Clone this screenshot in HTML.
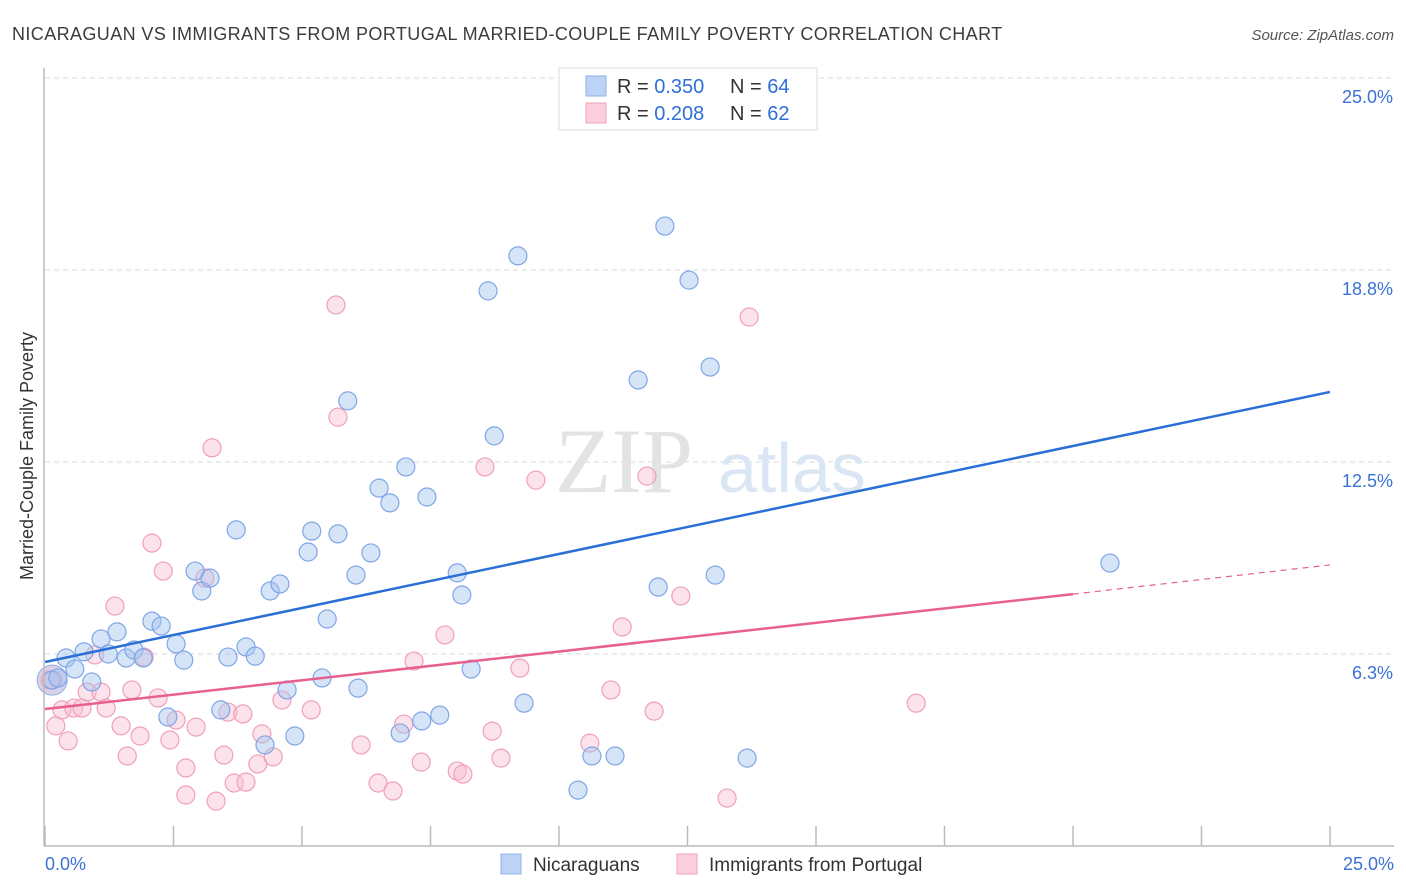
<!DOCTYPE html>
<html><head><meta charset="utf-8"><style>
body{margin:0;background:#fff;font-family:"Liberation Sans",sans-serif;}
svg{display:block}
</style></head><body>
<svg id="chart" width="1406" height="892">
<text x="12" y="40" font-size="18" fill="#3c3c3c" letter-spacing="0.4">NICARAGUAN VS IMMIGRANTS FROM PORTUGAL MARRIED-COUPLE FAMILY POVERTY CORRELATION CHART</text>
<text x="1394" y="40" font-size="15" fill="#555" font-style="italic" text-anchor="end">Source: ZipAtlas.com</text>
<text x="33" y="456" font-size="18" fill="#333" text-anchor="middle" transform="rotate(-90 33 456)">Married-Couple Family Poverty</text>
<g id="grid"></g>
<text x="555" y="492" font-size="92" fill="#e3e3e3" font-family="Liberation Serif,serif">ZIP</text>
<text x="718" y="492" font-size="70" fill="#dbe6f5">atlas</text>
<g id="pts"></g>
<g id="lines"></g>
<line x1="44" y1="68" x2="44" y2="846" stroke="#bbb" stroke-width="1.5"/>
<line x1="44" y1="846" x2="1394" y2="846" stroke="#bbb" stroke-width="1.5"/>
<g id="xt"></g>
<g>
<rect x="559" y="68" width="258" height="62" fill="#fff" stroke="#ddd"/>
<rect x="586" y="76" width="20" height="20" fill="#bcd3f5" stroke="#8fb0e8"/>
<rect x="586" y="103" width="20" height="20" fill="#fbcfdc" stroke="#f0a0b8"/>
<text x="617" y="93" font-size="20" fill="#333">R = <tspan fill="#2f6fd6">0.350</tspan></text>
<text x="730" y="93" font-size="20" fill="#333">N = <tspan fill="#2f6fd6">64</tspan></text>
<text x="617" y="120" font-size="20" fill="#333">R = <tspan fill="#2f6fd6">0.208</tspan></text>
<text x="730" y="120" font-size="20" fill="#333">N = <tspan fill="#2f6fd6">62</tspan></text>
</g>
<text x="45" y="870" font-size="18" fill="#3b72d6">0.0%</text>
<text x="1394" y="870" font-size="18" fill="#3b72d6" text-anchor="end">25.0%</text>
<g>
<rect x="501" y="854" width="20" height="20" fill="#bcd3f5" stroke="#8fb0e8"/>
<text x="533" y="871" font-size="19" fill="#333">Nicaraguans</text>
<rect x="677" y="854" width="20" height="20" fill="#fbcfdc" stroke="#f0a0b8"/>
<text x="709" y="871" font-size="19" fill="#333">Immigrants from Portugal</text>
</g>
</svg>
<script>
const yTicks=[6.25,12.5,18.75,25];
const yTickLabels=["6.3%","12.5%","18.8%","25.0%"];
const xTicks=[0,2.5,5,7.5,10,12.5,15,17.5,20,22.5,25];
const blueX=[0.14,0.25,0.41,0.58,0.76,0.91,1.09,1.23,1.40,1.58,1.73,1.91,2.08,2.26,2.39,2.55,2.70,2.92,3.05,3.21,3.42,3.56,3.72,3.91,4.09,4.28,4.38,4.57,4.71,4.86,5.12,5.19,5.39,5.49,5.70,5.89,6.05,6.09,6.34,6.50,6.71,6.91,7.02,7.33,7.43,7.68,8.02,8.11,8.29,8.62,8.74,9.20,9.32,10.37,10.64,11.09,11.54,11.93,12.06,12.53,12.94,13.04,13.66,20.72];
const blueY=[5.40,5.47,6.12,5.76,6.32,5.34,6.74,6.25,6.97,6.12,6.38,6.12,7.32,7.16,4.20,6.58,6.05,8.95,8.30,8.72,4.43,6.15,10.29,6.48,6.18,3.29,8.30,8.53,5.08,3.58,9.57,10.25,5.47,7.39,10.16,14.49,8.82,5.14,9.54,11.65,11.17,3.68,12.34,4.07,11.36,4.26,8.89,8.17,5.76,18.07,13.35,19.21,4.65,1.82,2.93,2.93,15.17,8.43,20.18,18.42,15.59,8.82,2.86,9.21];
const pinkX=[0.10,0.21,0.33,0.45,0.56,0.72,0.82,0.97,1.09,1.19,1.36,1.48,1.60,1.69,1.85,1.93,2.08,2.20,2.30,2.43,2.55,2.74,2.74,2.94,3.11,3.25,3.33,3.48,3.56,3.68,3.85,3.91,4.14,4.22,4.44,4.61,5.18,5.66,5.70,6.15,6.48,6.77,6.98,7.18,7.32,7.78,8.02,8.13,8.56,8.70,8.87,9.24,9.55,10.60,11.01,11.23,11.71,11.85,12.37,13.27,13.70,16.95];
const pinkY=[5.40,3.91,4.43,3.42,4.49,4.49,5.01,6.22,5.01,4.49,7.81,3.91,2.93,5.08,3.58,6.15,9.86,4.82,8.95,3.45,4.10,2.54,1.66,3.87,8.72,12.96,1.46,2.96,4.36,2.05,4.30,2.08,2.67,3.65,2.90,4.75,4.43,17.61,13.96,3.29,2.05,1.79,3.97,6.02,2.73,6.87,2.44,2.34,12.34,3.74,2.86,5.79,11.91,3.35,5.08,7.13,12.04,4.39,8.14,1.56,17.22,4.65];
const blueTrend=[5.99,14.78];
const pinkTrend=[4.46,8.2,9.15];
const pinkSolidEnd=20;
const NS="http://www.w3.org/2000/svg";
const X=v=>45+v/25*1285;
const Y=v=>846-v*30.72;
function mk(tag,attrs,parent){const e=document.createElementNS(NS,tag);for(const k in attrs)e.setAttribute(k,attrs[k]);parent.appendChild(e);return e;}
const grid=document.getElementById('grid');
yTicks.forEach((t,i)=>{
 const l=mk('line',{x1:45,x2:1394,y1:Y(t),y2:Y(t),stroke:'#d8d8d8','stroke-dasharray':'5,4'},grid);
 
 
 const tx=mk('text',{x:1393,y:Y(t)+25,'font-size':18,fill:'#3b72d6','text-anchor':'end'},grid);
 tx.textContent=yTickLabels[i];
 
 
});
const xt=document.getElementById('xt');
xTicks.forEach(t=>{
 const l=mk('line',{x1:X(t),x2:X(t),y1:826,y2:846,stroke:'#bbb','stroke-width':1.5},xt);
 
 
});
const pts=document.getElementById('pts');
function dots(xs,ys,fill,stroke,name){
 xs.forEach((x,i)=>{
  const c=mk('circle',{cx:X(x),cy:Y(ys[i]),r:9,fill:fill,stroke:stroke,'stroke-width':1.2},pts);
  
  
 });
}
const big=mk('circle',{cx:X(0.14),cy:Y(5.4),r:15,fill:'rgba(170,150,210,0.45)',stroke:'#8fb0e8'},pts);


dots(pinkX,pinkY,'rgba(248,190,208,0.45)','#f0a0b8','portugal-point');
dots(blueX,blueY,'rgba(165,195,240,0.45)','#7ea6e6','nicaraguan-point');
const lines=document.getElementById('lines');
const bl=mk('line',{x1:X(0),y1:Y(blueTrend[0]),x2:X(25),y2:Y(blueTrend[1]),stroke:'#2a6fd6','stroke-width':2.5},lines);


const pl=mk('line',{x1:X(0),y1:Y(pinkTrend[0]),x2:X(pinkSolidEnd),y2:Y(pinkTrend[1]),stroke:'#e8608e','stroke-width':2.5},lines);


const pd=mk('line',{x1:X(pinkSolidEnd),y1:Y(pinkTrend[1]),x2:X(25),y2:Y(pinkTrend[2]),stroke:'#e8608e','stroke-width':1.2,'stroke-dasharray':'6,5'},lines);


</script>
</body></html>
